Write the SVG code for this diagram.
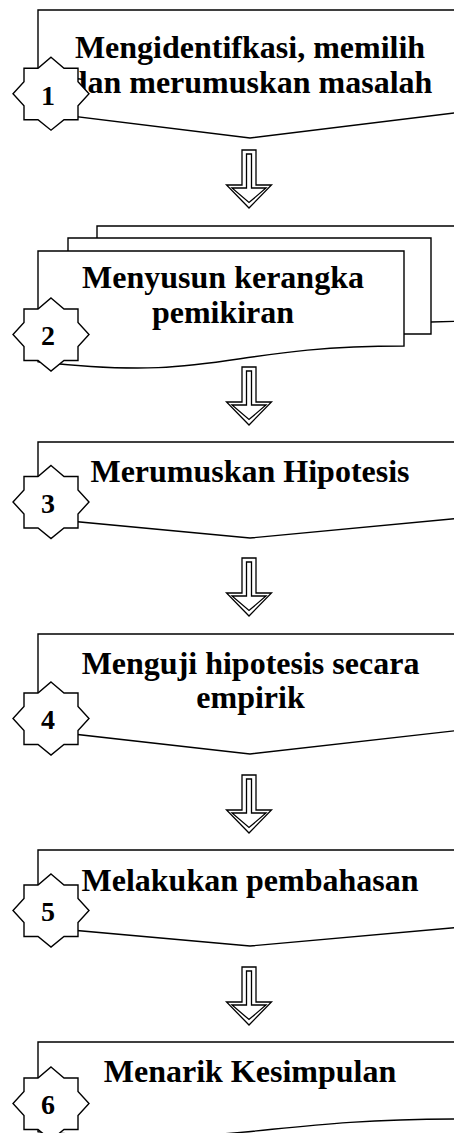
<svg xmlns="http://www.w3.org/2000/svg" width="454" height="1133" viewBox="0 0 454 1133">
<style>
.sh{fill:#fff;stroke:#000;stroke-width:1.4;stroke-linejoin:miter}
.ar{fill:#fff;stroke:#000;stroke-width:1.3}
.t{font-family:"Liberation Serif","Times New Roman",serif;font-weight:bold;font-size:32px;fill:#000;text-anchor:middle}
.n{font-family:"Liberation Serif","Times New Roman",serif;font-weight:bold;font-size:28px;fill:#000;text-anchor:middle}
</style>
<defs>
<path id="star" class="sh" d="M0,-36.5 L13,-25.5 L27,-25.5 L27,-12 L38,0 L27,12 L27,26 L13,26 L0,36.5 L-13,26 L-27,26 L-27,12 L-38,0 L-27,-12 L-27,-25.5 L-13,-25.5 Z"/>
<g id="arrow">
<path class="ar" d="M-7,0 H7 V35 H22.5 L0,58 L-22.5,35 H-7 Z"/>
<path class="ar" fill="none" d="M-2.5,4 H2.5 V38 H17 L0,52.5 L-17,38 H-2.5 Z"/>
</g>
</defs>
<rect width="454" height="1133" fill="#fff"/>

<g id="connectors">
<use href="#arrow" x="249" y="150"/>
<use href="#arrow" x="249" y="367"/>
<use href="#arrow" x="249" y="558"/>
<use href="#arrow" x="249" y="775"/>
<use href="#arrow" x="249" y="967"/>
</g>

<g id="node1">
<path class="sh" d="M38,10 H462 V112 L250,138 L38,112 Z"/>
<text class="t" x="250" y="58">Mengidentifkasi, memilih</text>
<text class="t" x="251" y="92.5">dan merumuskan masalah</text>
<use href="#star" x="51" y="93.7"/>
<text class="n" x="48" y="104.5">1</text>
</g>

<g id="node2">
<path class="sh" d="M97,226 H470 V321 L431,322 H97 Z"/>
<path class="sh" d="M68,238 H431 V334 H68 Z"/>
<path class="sh" d="M38,251 H404 V346 C221,346 221,382.3 38,361.7 Z"/>
<text class="t" x="223" y="288">Menyusun kerangka</text>
<text class="t" x="223" y="323">pemikiran</text>
<use href="#star" x="51" y="334.5"/>
<text class="n" x="48" y="345">2</text>
</g>

<g id="node3">
<path class="sh" d="M38,442 H462 V518 L250,538 L38,518 Z"/>
<text class="t" x="250" y="482">Merumuskan Hipotesis</text>
<use href="#star" x="51" y="502"/>
<text class="n" x="48" y="512.5">3</text>
</g>

<g id="node4">
<path class="sh" d="M38,634 H462 V730 L250,754 L38,730 Z"/>
<text class="t" x="250.5" y="674">Menguji hipotesis secara</text>
<text class="t" x="250.5" y="708">empirik</text>
<use href="#star" x="51" y="718.5"/>
<text class="n" x="48" y="729">4</text>
</g>

<g id="node5">
<path class="sh" d="M38,850 H462 V927 L250,946 L38,927 Z"/>
<text class="t" x="250" y="891">Melakukan pembahasan</text>
<use href="#star" x="51" y="910.5"/>
<text class="n" x="48" y="921">5</text>
</g>

<g id="node6">
<path class="sh" d="M38,1042 H462 V1119 C250,1119 250,1148.4 38,1131.7 Z"/>
<text class="t" x="250" y="1082">Menarik Kesimpulan</text>
<use href="#star" x="51" y="1103.5"/>
<text class="n" x="48" y="1114">6</text>
</g>
</svg>
